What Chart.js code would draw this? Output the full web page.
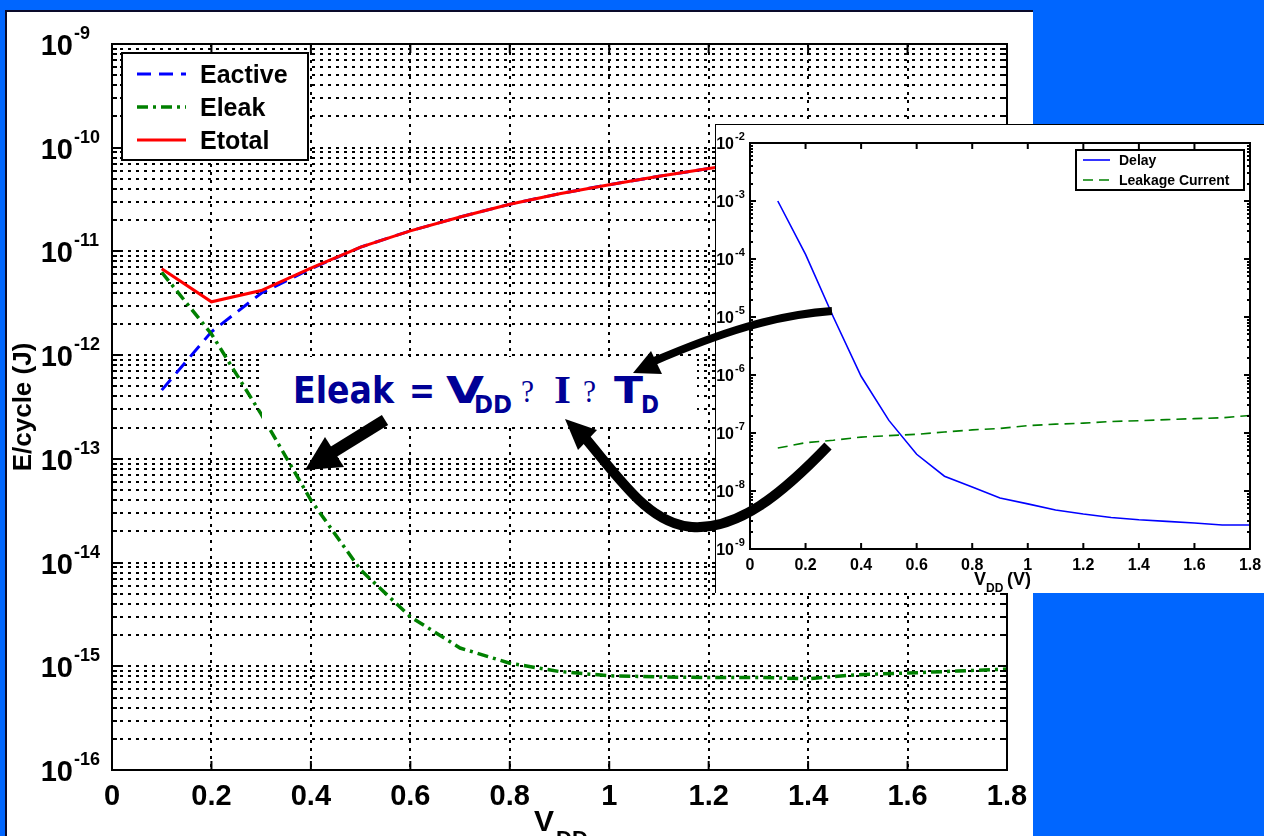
<!DOCTYPE html>
<html>
<head>
<meta charset="utf-8">
<title>E/cycle vs VDD</title>
<script src="https://cdn.jsdelivr.net/npm/chart.js@4.4.1/dist/chart.umd.min.js"></script>
<style>
  html, body { margin: 0; padding: 0; }
  body { width: 1264px; height: 836px; overflow: hidden; position: relative; background: #0066ff; }
  #panel { position: absolute; left: 5px; top: 10px; width: 1028px; height: 840px; background: #fff;
           border-left: 2px solid #0a0a2a; border-top: 2px solid #0a0a2a; box-sizing: border-box; }
  #mainChart { position: absolute; left: 0; top: 0; }
  #insetBox { position: absolute; left: 715px; top: 124px; width: 549px; height: 469px; background: #fff;
              border-left: 1px solid #000; border-top: 1px solid #000; box-sizing: border-box; }
  #insetChart { position: absolute; left: 0; top: 0; }
  #overlay { position: absolute; left: 0; top: 0; pointer-events: none; }
</style>
</head>
<body>
<div id="panel"></div>
<canvas id="mainChart" width="1264" height="836"></canvas>
<div id="insetBox"><canvas id="insetChart" width="548" height="468"></canvas></div>

<svg id="overlay" width="1264" height="836" xmlns="http://www.w3.org/2000/svg">
  <!-- formula box -->
  <rect x="262" y="357" width="435" height="69" fill="#fff"/>
  <g fill="#000096" font-family="DejaVu Sans" font-weight="bold">
    <text x="293" y="403" font-size="38" textLength="101" lengthAdjust="spacingAndGlyphs">Eleak</text>
    <text x="409" y="403" font-size="38" textLength="26" lengthAdjust="spacingAndGlyphs">=</text>
    <text x="446" y="403" font-size="38" textLength="38" lengthAdjust="spacingAndGlyphs">V</text>
    <text x="474" y="413" font-size="25" textLength="38" lengthAdjust="spacingAndGlyphs">DD</text>
    <text x="614" y="403" font-size="38" textLength="29" lengthAdjust="spacingAndGlyphs">T</text>
    <text x="641" y="413" font-size="25" textLength="18" lengthAdjust="spacingAndGlyphs">D</text>
  </g>
  <g fill="#000096" font-family="Liberation Serif">
    <text x="521" y="402" font-size="31" textLength="13" lengthAdjust="spacingAndGlyphs">?</text>
    <text x="554" y="403" font-size="40" font-weight="bold" textLength="17" lengthAdjust="spacingAndGlyphs">I</text>
    <text x="583" y="402" font-size="31" textLength="13" lengthAdjust="spacingAndGlyphs">?</text>
  </g>
  <!-- arrows -->
  <g stroke="#000" fill="none" stroke-linecap="butt">
    <line x1="385" y1="420" x2="330" y2="454" stroke-width="12"/>
    <path d="M 832 311 C 775 315, 722 332, 652 362" stroke-width="8"/>
    <path d="M 828 446 C 782 494, 738 530, 692 527 C 650 524, 622 482, 586 439" stroke-width="10"/>
  </g>
  <g fill="#000">
    <polygon points="305,470 325,437 344,467"/>
    <polygon points="633,373 651,351 662,374"/>
    <polygon points="565,419 597,430 578,450"/>
  </g>
</svg>

<script>
// V_DD sample points (V)
const vdd = [0.1, 0.2, 0.3, 0.4, 0.5, 0.6, 0.7, 0.8, 0.9, 1.0, 1.1, 1.2, 1.3, 1.4, 1.5, 1.6, 1.7, 1.8];

// main plot, energy per cycle (J)
const eActive = [4.6e-13, 1.68e-12, 3.95e-12, 6.8e-12, 1.1e-11, 1.58e-11, 2.15e-11, 2.85e-11, 3.6e-11,
                 4.4e-11, 5.3e-11, 6.3e-11, 7.4e-11, 8.5e-11, 9.7e-11, 1.1e-10, 1.25e-10, 1.4e-10];
const eLeak = [6.3e-12, 1.6e-12, 2.7e-13, 4.0e-14, 8.5e-15, 3.0e-15, 1.5e-15, 1.07e-15, 8.9e-16,
               8.1e-16, 7.9e-16, 7.8e-16, 7.8e-16, 7.6e-16, 8.3e-16, 8.6e-16, 9.0e-16, 9.4e-16];
const eTotal = [6.8e-12, 3.27e-12, 4.2e-12, 6.9e-12, 1.1e-11, 1.58e-11, 2.15e-11, 2.85e-11, 3.6e-11,
                4.4e-11, 5.3e-11, 6.3e-11, 7.4e-11, 8.5e-11, 9.7e-11, 1.1e-10, 1.25e-10, 1.4e-10];

// inset plot
const delay = [1.0e-3, 1.2e-4, 1.0e-5, 9.5e-7, 1.65e-7, 4.3e-8, 1.8e-8, 1.17e-8, 7.6e-9,
               6.0e-9, 4.7e-9, 4.0e-9, 3.5e-9, 3.2e-9, 3.0e-9, 2.8e-9, 2.6e-9, 2.6e-9];
const leakCurrent = [5.5e-8, 6.8e-8, 7.5e-8, 8.5e-8, 9.0e-8, 9.5e-8, 1.04e-7, 1.13e-7, 1.2e-7,
                     1.34e-7, 1.42e-7, 1.48e-7, 1.58e-7, 1.63e-7, 1.7e-7, 1.77e-7, 1.83e-7, 2.0e-7];

// ticks
const xTicks = [0, 0.2, 0.4, 0.6, 0.8, 1, 1.2, 1.4, 1.6, 1.8];
const xTickLabels = ['0', '0.2', '0.4', '0.6', '0.8', '1', '1.2', '1.4', '1.6', '1.8'];
const yExponents = [-16, -15, -14, -13, -12, -11, -10, -9];
const insetExponents = [-9, -8, -7, -6, -5, -4, -3, -2];

const FONT = '"Liberation Sans", Arial, sans-serif';

function pts(ys) {
    return vdd.map(function (x, i) { return { x: x, y: ys[i] }; });
}

// 1..9 x 10^n for every decade
function logTicks(exps) {
    var out = [];
    for (var k = 0; k < exps.length; k++) {
        var base = Math.pow(10, exps[k]);
        out.push({ value: base, major: true });
        if (k < exps.length - 1) {
            for (var m = 2; m < 10; m++) out.push({ value: m * base, major: false });
        }
    }
    return out;
}

function drawPow(ctx, x, y, exp, size, supSize, rise) {
    ctx.textAlign = 'right';
    ctx.font = 'bold ' + size + 'px ' + FONT;
    ctx.fillText('10', x, y);
    ctx.textAlign = 'left';
    ctx.font = 'bold ' + supSize + 'px ' + FONT;
    ctx.fillText(String(exp), x + 1, y - rise);
}

// frame, inward ticks, tick labels, legend, titles of the main plot
const mainDecor = {
    id: 'mainDecor',
    afterDraw: function (chart) {
        const ctx = chart.ctx, a = chart.chartArea;
        const xs = chart.scales.x, ys = chart.scales.y;
        ctx.save();
        ctx.setLineDash([]);
        ctx.strokeStyle = '#000';
        ctx.fillStyle = '#000';

        ctx.lineWidth = 2;
        ctx.strokeRect(a.left, a.top, a.right - a.left, a.bottom - a.top);

        ctx.beginPath();
        xTicks.forEach(function (v) {
            const px = xs.getPixelForValue(v);
            ctx.moveTo(px, a.bottom); ctx.lineTo(px, a.bottom - 9);
            ctx.moveTo(px, a.top); ctx.lineTo(px, a.top + 9);
        });
        logTicks(yExponents).forEach(function (t) {
            const py = Math.round(ys.getPixelForValue(t.value));
            const len = t.major ? 9 : 5;
            ctx.moveTo(a.left, py); ctx.lineTo(a.left + len, py);
            ctx.moveTo(a.right, py); ctx.lineTo(a.right - len, py);
        });
        ctx.stroke();

        // x tick labels
        ctx.textAlign = 'center';
        ctx.font = 'bold 29px ' + FONT;
        xTicks.forEach(function (v, i) {
            ctx.fillText(xTickLabels[i], xs.getPixelForValue(v), a.bottom + 35);
        });
        // y tick labels
        yExponents.forEach(function (e) {
            const py = ys.getPixelForValue(Math.pow(10, e));
            drawPow(ctx, 73, py + 11, e, 29, 18, 16);
        });

        // axis titles
        ctx.textAlign = 'left';
        ctx.font = 'bold 30px ' + FONT;
        ctx.fillText('V', 534, 831);
        ctx.font = 'bold 22px ' + FONT;
        ctx.fillText('DD', 556, 846);

        ctx.save();
        ctx.translate(31, (a.top + a.bottom) / 2);
        ctx.rotate(-Math.PI / 2);
        ctx.textAlign = 'center';
        ctx.font = 'bold 26px ' + FONT;
        ctx.fillText('E/cycle (J)', 0, 0);
        ctx.restore();

        // legend
        const rows = [74, 107, 140];
        ctx.fillStyle = '#fff';
        ctx.fillRect(122, 53, 186, 107);
        ctx.lineWidth = 2;
        ctx.strokeRect(122, 53, 186, 107);
        chart.data.datasets.forEach(function (ds, i) {
            ctx.beginPath();
            ctx.strokeStyle = ds.borderColor;
            ctx.lineWidth = ds.borderWidth;
            ctx.setLineDash(ds.borderDash || []);
            ctx.moveTo(137, rows[i]); ctx.lineTo(186, rows[i]);
            ctx.stroke();
            ctx.setLineDash([]);
            ctx.fillStyle = '#000';
            ctx.textAlign = 'left';
            ctx.font = 'bold 25px ' + FONT;
            ctx.fillText(ds.label, 200, rows[i] + 9);
        });
        ctx.restore();
    }
};

const insetDecor = {
    id: 'insetDecor',
    afterDraw: function (chart) {
        const ctx = chart.ctx, a = chart.chartArea;
        const xs = chart.scales.x, ys = chart.scales.y;
        ctx.save();
        ctx.setLineDash([]);
        ctx.strokeStyle = '#000';
        ctx.fillStyle = '#000';
        ctx.lineWidth = 2;
        ctx.strokeRect(a.left, a.top, a.right - a.left, a.bottom - a.top);

        ctx.beginPath();
        xTicks.forEach(function (v) {
            const px = xs.getPixelForValue(v);
            ctx.moveTo(px, a.bottom); ctx.lineTo(px, a.bottom - 6);
            ctx.moveTo(px, a.top); ctx.lineTo(px, a.top + 6);
        });
        logTicks(insetExponents).forEach(function (t) {
            const py = Math.round(ys.getPixelForValue(t.value));
            const len = t.major ? 6 : 3;
            ctx.moveTo(a.left, py); ctx.lineTo(a.left + len, py);
            ctx.moveTo(a.right, py); ctx.lineTo(a.right - len, py);
        });
        ctx.stroke();

        ctx.textAlign = 'center';
        ctx.font = 'bold 16px ' + FONT;
        xTicks.forEach(function (v, i) {
            ctx.fillText(xTickLabels[i], xs.getPixelForValue(v), a.bottom + 21);
        });
        insetExponents.forEach(function (e) {
            const py = ys.getPixelForValue(Math.pow(10, e));
            drawPow(ctx, 18, py + 6, e, 16, 11, 9);
        });

        // x title
        ctx.textAlign = 'left';
        ctx.font = 'bold 18px ' + FONT;
        ctx.fillText('V', 258, 460);
        ctx.fillText('(V)', 291, 460);
        ctx.font = 'bold 12px ' + FONT;
        ctx.fillText('DD', 270, 467);

        // legend
        const rows = [35, 55];
        ctx.fillStyle = '#fff';
        ctx.fillRect(360, 25, 168, 40);
        ctx.lineWidth = 2;
        ctx.strokeRect(360, 25, 168, 40);
        chart.data.datasets.forEach(function (ds, i) {
            ctx.beginPath();
            ctx.strokeStyle = ds.borderColor;
            ctx.lineWidth = ds.borderWidth;
            ctx.setLineDash(ds.borderDash || []);
            ctx.moveTo(367, rows[i]); ctx.lineTo(394, rows[i]);
            ctx.stroke();
            ctx.setLineDash([]);
            ctx.fillStyle = '#000';
            ctx.font = 'bold 14px ' + FONT;
            ctx.fillText(ds.label, 403, rows[i] + 5);
        });
        ctx.restore();
    }
};

function dottedGrid() {
    return { color: '#000', lineWidth: 2, drawTicks: false };
}

new Chart(document.getElementById('mainChart'), {
    type: 'line',
    data: {
        datasets: [
            { label: 'Eactive', data: pts(eActive), borderColor: '#0000ff', borderWidth: 3,
              borderDash: [14, 8], pointRadius: 0, tension: 0, order: 3 },
            { label: 'Eleak', data: pts(eLeak), borderColor: '#008000', borderWidth: 3.5,
              borderDash: [11, 5, 3, 5], pointRadius: 0, tension: 0, order: 2 },
            { label: 'Etotal', data: pts(eTotal), borderColor: '#ff0000', borderWidth: 3,
              pointRadius: 0, tension: 0, order: 1 }
        ]
    },
    options: {
        responsive: false,
        animation: false,
        devicePixelRatio: 1,
        layout: { padding: { left: 112, top: 44, right: 257, bottom: 66 } },
        plugins: { legend: { display: false }, tooltip: { enabled: false } },
        scales: {
            x: {
                type: 'linear', min: 0, max: 1.8,
                afterBuildTicks: function (s) { s.ticks = xTicks.map(function (v) { return { value: v }; }); },
                ticks: { display: false },
                grid: dottedGrid(),
                border: { display: false, dash: [3, 5] }
            },
            y: {
                type: 'logarithmic', min: 1e-16, max: 1e-9,
                afterBuildTicks: function (s) { s.ticks = logTicks(yExponents); },
                ticks: { display: false },
                grid: dottedGrid(),
                border: { display: false, dash: [3, 5] }
            }
        }
    },
    plugins: [mainDecor]
});

new Chart(document.getElementById('insetChart'), {
    type: 'line',
    data: {
        datasets: [
            { label: 'Delay', data: pts(delay), borderColor: '#0000ff', borderWidth: 1.6,
              pointRadius: 0, tension: 0 },
            { label: 'Leakage Current', data: pts(leakCurrent), borderColor: '#008000', borderWidth: 1.6,
              borderDash: [10, 6], pointRadius: 0, tension: 0 }
        ]
    },
    options: {
        responsive: false,
        animation: false,
        devicePixelRatio: 1,
        layout: { padding: { left: 34, top: 18, right: 14, bottom: 44 } },
        plugins: { legend: { display: false }, tooltip: { enabled: false } },
        scales: {
            x: { type: 'linear', min: 0, max: 1.8, ticks: { display: false },
                 grid: { display: false, drawTicks: false }, border: { display: false } },
            y: { type: 'logarithmic', min: 1e-9, max: 1e-2, ticks: { display: false },
                 grid: { display: false, drawTicks: false }, border: { display: false } }
        }
    },
    plugins: [insetDecor]
});
</script>
</body>
</html>
